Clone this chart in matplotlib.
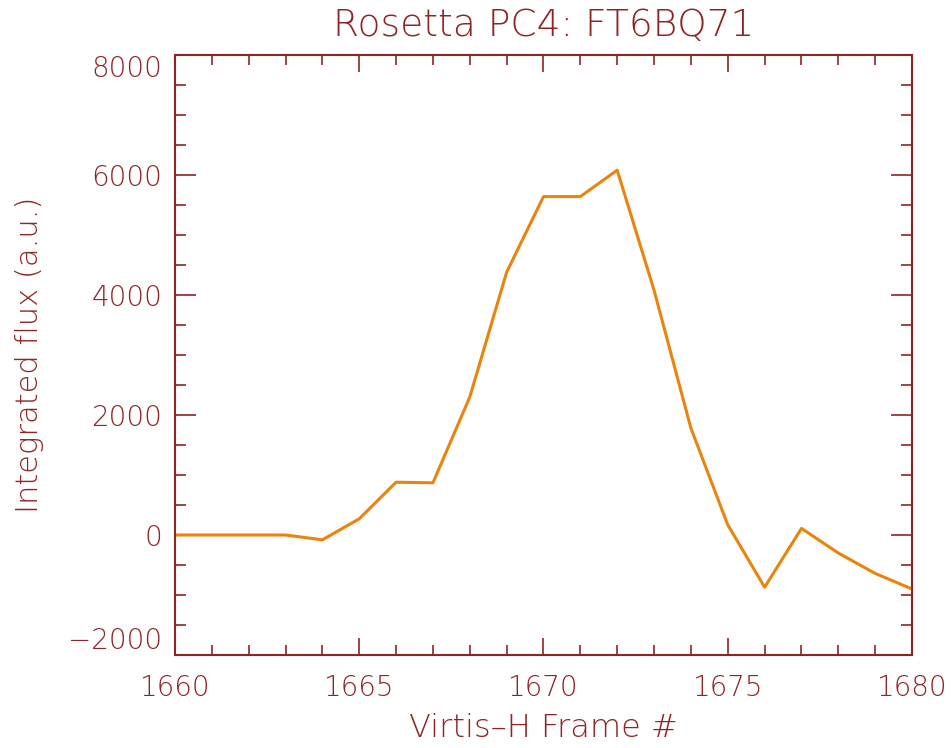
import matplotlib
matplotlib.use("Agg")
import matplotlib.pyplot as plt
from matplotlib.ticker import MultipleLocator

frames = list(range(1660, 1681))
flux = [0, 0, 0, 0, -80, 270, 880, 870, 2300, 4380, 5640, 5640, 6080,
        4080, 1780, 170, -870, 110, -300, -640, -900]

title = "Rosetta PC4: FT6BQ71"
xlabel = "Virtis\u2013H Frame #"
ylabel = "Integrated flux (a.u.)"
yticks = [-2000, 0, 2000, 4000, 6000, 8000]
yticklabels = ["\u22122000", "0", "2000", "4000", "6000", "8000"]

axc = "#8f2424"
linec = "#ea840c"

plt.rcParams['font.family'] = ['DejaVu Sans']
fig = plt.figure(figsize=(9.53, 7.48), dpi=100)
ax = fig.add_axes([0.1836, 0.1243, 0.957 - 0.1836, 0.9265 - 0.1243])
ax.plot(frames, flux, color=linec, lw=2.2)
ax.set_xlim(1660, 1680)
ax.set_ylim(-2000, 8000)
ax.xaxis.set_major_locator(MultipleLocator(5))
ax.xaxis.set_minor_locator(MultipleLocator(1))
ax.yaxis.set_major_locator(MultipleLocator(2000))
ax.yaxis.set_minor_locator(MultipleLocator(500))
ax.tick_params(which='both', direction='in', top=True, right=True, colors=axc,
               labelsize=20, width=1.2)
ax.tick_params(axis='y', which='major', length=15, pad=9)
ax.tick_params(axis='y', which='minor', length=8)
ax.tick_params(axis='x', which='major', length=12, pad=14)
ax.tick_params(axis='x', which='minor', length=7)
ax.set_yticks(yticks)
ax.set_yticklabels(yticklabels)
for lab in ax.get_xticklabels() + ax.get_yticklabels():
    lab.set_fontweight('light')
ylabs = ax.get_yticklabels()
ylabs[0].set_verticalalignment('bottom')
ylabs[-1].set_verticalalignment('top')
for s in ax.spines.values():
    s.set_color(axc)
    s.set_linewidth(1.5)
ax.set_title(title, color=axc, fontsize=27, pad=14, fontweight='light')
ax.set_xlabel(xlabel, color=axc, fontsize=23, fontweight='light')
ax.set_ylabel(ylabel, color=axc, fontsize=22, fontweight='light')
ax.xaxis.set_label_coords(0.5, -0.097)
ax.yaxis.set_label_coords(-0.178, 0.5)
fig.savefig("out.png", dpi=100)
